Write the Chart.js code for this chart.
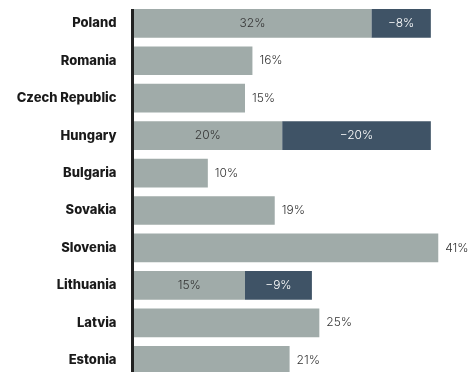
<!DOCTYPE html>
<html>
<head>
<meta charset="utf-8">
<script src="https://cdn.jsdelivr.net/npm/chart.js@4"></script>
<style>
  html, body { margin: 0; padding: 0; background: #fff; overflow: hidden; }
  canvas { display: block; }
</style>
</head>
<body>
<canvas id="chart" width="468" height="384"></canvas>
<script>
// share of respondents per country: positive part and negative part
const countries = ['Poland', 'Romania', 'Czech Republic', 'Hungary', 'Bulgaria', 'Sovakia', 'Slovenia', 'Lithuania', 'Latvia', 'Estonia'];
const positive = [32, 16, 15, 20, 10, 19, 41, 15, 25, 21];
const negative = [-8, null, null, -20, null, null, null, -9, null, null];

const GREY = '#a0aba9';
const DARK = '#3f5366';

function pct(v) {
  return (v < 0 ? '\u2212' + Math.abs(v) : v) + '%';
}

// value labels + left axis line
const barLabels = {
  id: 'barLabels',
  afterDatasetsDraw(chart) {
    const ctx = chart.ctx;
    const area = chart.chartArea;
    ctx.save();
    ctx.font = '300 12px Inter, sans-serif';
    ctx.textBaseline = 'middle';
    const posMeta = chart.getDatasetMeta(0);
    const negMeta = chart.getDatasetMeta(1);
    positive.forEach((v, i) => {
      const bar = posMeta.data[i];
      if (negative[i] != null) {
        ctx.fillStyle = '#333';
        ctx.textAlign = 'center';
        ctx.fillText(pct(v), (bar.base + bar.x) / 2, bar.y);
        const nb = negMeta.data[i];
        ctx.fillStyle = '#ffffff';
        ctx.fillText(pct(negative[i]), (nb.base + nb.x) / 2, nb.y);
      } else {
        ctx.fillStyle = '#333';
        ctx.textAlign = 'left';
        ctx.fillText(pct(v), bar.x + 7, bar.y);
      }
    });
    const first = posMeta.data[0];
    ctx.strokeStyle = '#222';
    ctx.lineWidth = 3;
    ctx.beginPath();
    ctx.moveTo(area.left - 1, first.y - first.height / 2);
    ctx.lineTo(area.left - 1, chart.height);
    ctx.stroke();
    ctx.restore();
  }
};

new Chart(document.getElementById('chart'), {
  type: 'bar',
  data: {
    labels: countries,
    datasets: [
      { data: positive, backgroundColor: GREY },
      { data: negative.map(v => v == null ? null : Math.abs(v)), backgroundColor: DARK }
    ]
  },
  options: {
    indexAxis: 'y',
    responsive: false,
    animation: false,
    layout: { padding: { top: 4.6, bottom: 5, left: 0, right: 0 } },
    datasets: { bar: { categoryPercentage: 1, barPercentage: 0.766 } },
    plugins: { legend: { display: false }, tooltip: { enabled: false } },
    scales: {
      x: { display: false, stacked: true, min: 0, max: 45 },
      y: {
        stacked: true,
        grid: { display: false, drawTicks: false },
        border: { display: false },
        afterFit(scale) {
          scale.width = 133.5;
          scale.paddingTop = 0;
          scale.paddingBottom = 0;
        },
        ticks: {
          padding: 17,
          color: '#1a1a1a',
          font: { family: 'Inter, sans-serif', size: 13, weight: 800 }
        }
      }
    }
  },
  plugins: [barLabels]
});
</script>
</body>
</html>
